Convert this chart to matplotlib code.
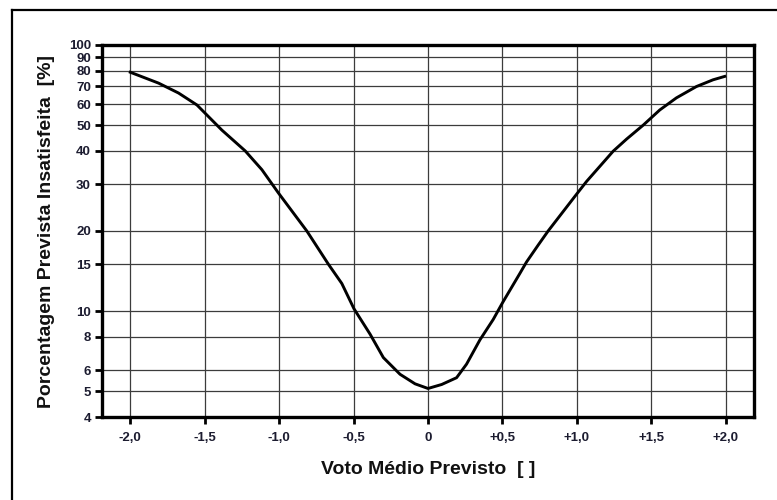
import matplotlib
matplotlib.use("Agg")
import matplotlib.pyplot as plt
from matplotlib.lines import Line2D
from matplotlib.ticker import FixedLocator, NullLocator

plt.rcParams['font.family'] = ['Liberation Sans', 'DejaVu Sans']

# PMV (voto medio previsto) vs PPD (%)
pmv = [-2.0, -1.81, -1.676, -1.552, -1.385, -1.228, -1.116, -1.005, -0.814,
       -0.669, -0.579, -0.497, -0.389, -0.300, -0.188, -0.087, 0.0, 0.092,
       0.192, 0.259, 0.349, 0.438, 0.501, 0.617, 0.662, 0.74, 0.807, 0.987,
       1.065, 1.244, 1.334, 1.446, 1.557, 1.669, 1.803, 1.915, 1.993]
ppd = [79.0, 71.9, 66.0, 59.5, 47.9, 40.0, 34.0, 27.8, 20.0,
       15.0, 12.7, 10.2, 8.19, 6.69, 5.79, 5.33, 5.12, 5.30,
       5.62, 6.32, 7.8, 9.3, 10.76, 13.85, 15.3, 17.7, 20.0, 27.0,
       30.7, 39.9, 44.3, 50.0, 57.0, 63.3, 69.8, 74.0, 76.2]

x_ticks = [-2.0, -1.5, -1.0, -0.5, 0.0, 0.5, 1.0, 1.5, 2.0]
x_labels = ['-2,0', '-1,5', '-1,0', '-0,5', '0', '+0,5', '+1,0', '+1,5', '+2,0']
y_ticks = [4, 5, 6, 8, 10, 15, 20, 30, 40, 50, 60, 70, 80, 90, 100]
y_labels = [str(v) for v in y_ticks]

fig = plt.figure(figsize=(7.77, 5.0), dpi=100)
fig.patch.set_facecolor('white')

# outer frame: only the left and top edges are inside the picture
fx = 12 / 777
fy = 1 - 10 / 500
fig.lines.append(Line2D([fx, fx], [0, fy], transform=fig.transFigure,
                        color='black', lw=1.6))
fig.lines.append(Line2D([fx, 1], [fy, fy], transform=fig.transFigure,
                        color='black', lw=1.6))

ax = fig.add_axes([102 / 777, 1 - 417 / 500, (754 - 102) / 777, (417 - 45) / 500])
ax.set_yscale('log')
ax.set_xlim(-2.19, 2.19)
ax.set_ylim(4, 100)

ax.plot(pmv, ppd, color='black', lw=2.1, zorder=3)

ax.xaxis.set_major_locator(FixedLocator(x_ticks))
ax.set_xticklabels(x_labels)
ax.yaxis.set_major_locator(FixedLocator(y_ticks))
ax.yaxis.set_minor_locator(NullLocator())
ax.set_yticklabels(y_labels)

ax.grid(True, which='major', color='#3c3c3c', lw=0.9)
ax.set_axisbelow(True)

for s in ax.spines.values():
    s.set_linewidth(2.4)
ax.tick_params(axis='both', which='major', direction='out', length=5,
               width=2, pad=3, labelsize=9.5, labelcolor='#1c1c30')
for lbl in ax.get_xticklabels() + ax.get_yticklabels():
    lbl.set_fontweight('bold')
ax.tick_params(axis='x', pad=6)

ax.set_xlabel('Voto Médio Previsto  [ ]', fontsize=14, fontweight='bold',
              color='#111111', labelpad=12)
ax.set_ylabel('Porcentagem Prevista Insatisfeita  [%]', fontsize=14,
              fontweight='bold', color='#111111', labelpad=10)

fig.savefig('out.png', dpi=100, facecolor='white')
